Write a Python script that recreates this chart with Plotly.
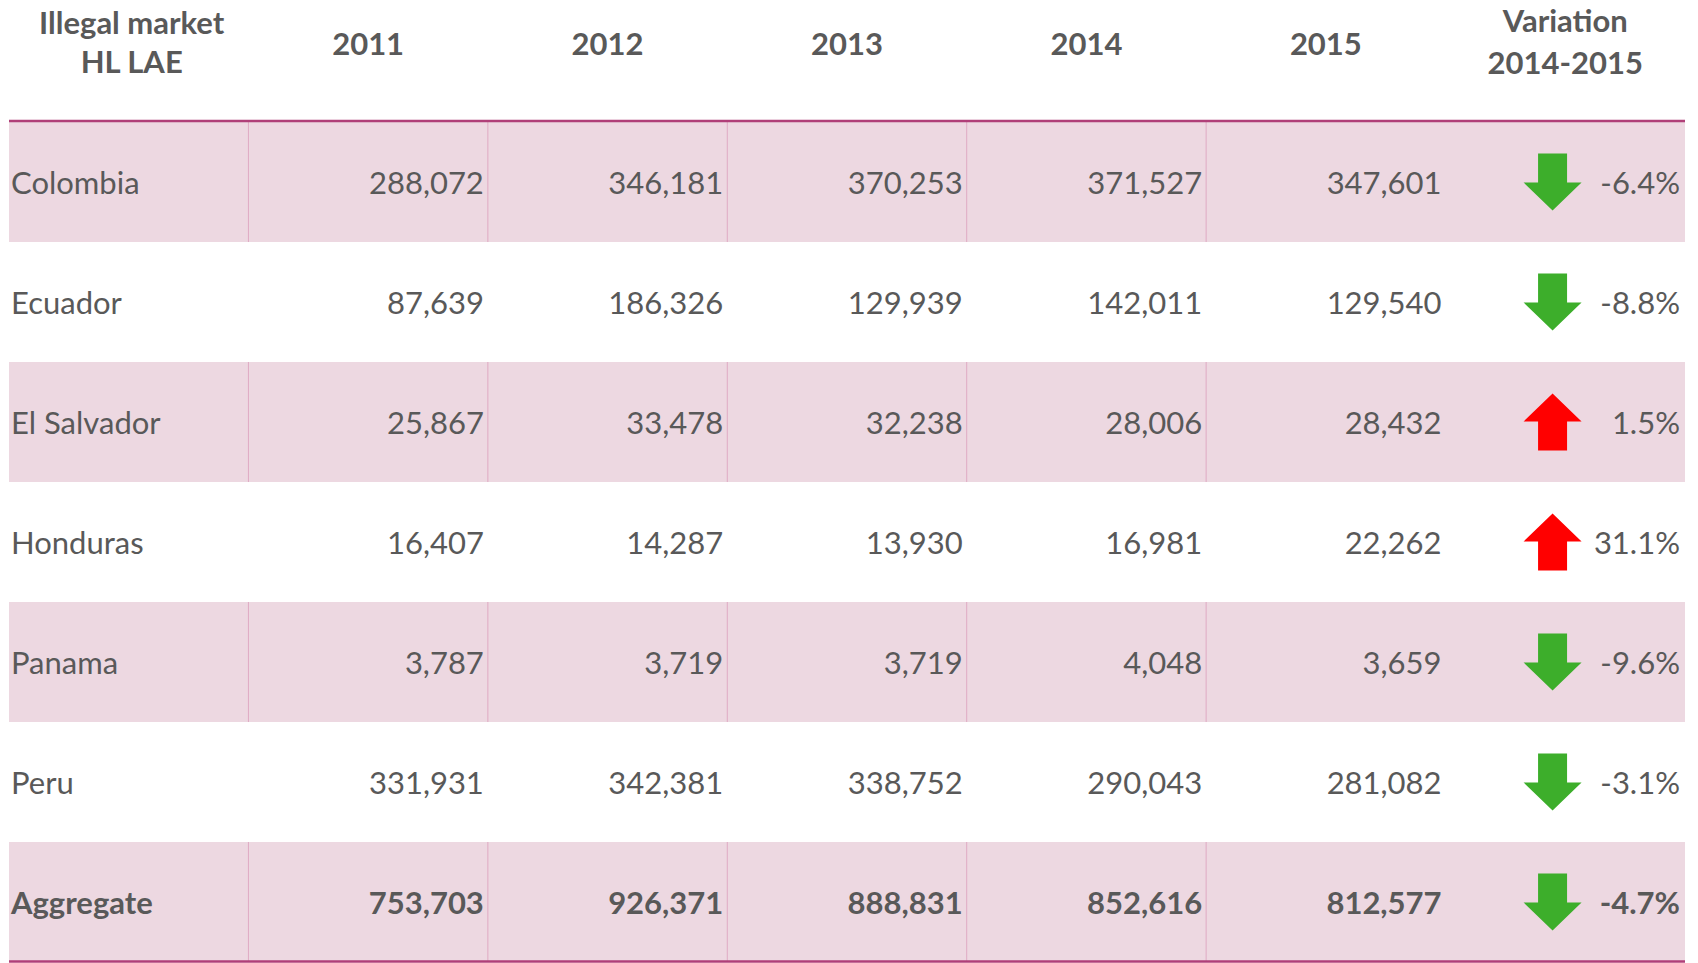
import plotly.graph_objects as go

# ---------------- data ----------------
header_label = ["Illegal market", "HL LAE"]
years = ["2011", "2012", "2013", "2014", "2015"]
variation_header = ["Variation", "2014-2015"]
countries = ["Colombia", "Ecuador", "El Salvador", "Honduras", "Panama", "Peru", "Aggregate"]
v2011 = [288072, 87639, 25867, 16407, 3787, 331931, 753703]
v2012 = [346181, 186326, 33478, 14287, 3719, 342381, 926371]
v2013 = [370253, 129939, 32238, 13930, 3719, 338752, 888831]
v2014 = [371527, 142011, 28006, 16981, 4048, 290043, 852616]
v2015 = [347601, 129540, 28432, 22262, 3659, 281082, 812577]
series = [v2011, v2012, v2013, v2014, v2015]
variation = [(b / a - 1) * 100 for a, b in zip(v2014, v2015)]

# ---------------- style / layout constants ----------------
PAGE_M = 0                      # body margin removed via post_script
W_PX, H_PX = 1698, 963
LEFT_PX, RIGHT_PX = 9 - PAGE_M, 1685 - PAGE_M
TOP_PX, ROW_PX = 122 - PAGE_M, 120
NCOL = 7
COLW = (RIGHT_PX - LEFT_PX) / NCOL
TXT = "#595959"
FILL = "#EDD8E1"
SEP = "#DFAAC3"
RULE = "#B03F78"
GREEN = "#3DAE2B"
RED = "#FF0000"
FONT = "Lato"
FS = 31
BODY_DY = 4                     # text baseline tweak (px)


def px_x(p):  # pixel offset -> column units
    return p / COLW


def px_y(p):  # pixel offset -> row units
    return p / ROW_PX


def page_y(p):  # page pixel y -> row units
    return (p - PAGE_M - TOP_PX) / ROW_PX


nrows = len(countries)
fig = go.Figure()

# row shading and separators
shapes = []
for i in range(nrows):
    if i % 2 == 0:
        shapes.append(dict(type="rect", xref="x", yref="y", x0=0, x1=NCOL, y0=i, y1=i + 1,
                           fillcolor=FILL, line=dict(width=0), layer="below"))
        for c in range(1, 6):
            shapes.append(dict(type="line", xref="x", yref="y", x0=c, x1=c, y0=i, y1=i + 1,
                               line=dict(color=SEP, width=1), layer="below"))
shapes.append(dict(type="line", xref="x", yref="y", x0=0, x1=NCOL, y0=px_y(-1), y1=px_y(-1),
                   line=dict(color=RULE, width=2.5)))
shapes.append(dict(type="line", xref="x", yref="y", x0=0, x1=NCOL, y0=nrows - px_y(0.5), y1=nrows - px_y(0.5),
                   line=dict(color=RULE, width=2.5)))

bold = dict(family=FONT, size=FS, color=TXT, weight="bold")

# header texts
fig.add_trace(go.Scatter(x=[0.5 + px_x(3)] * 2, y=[page_y(26), page_y(65)], mode="text",
                         text=header_label, textposition="middle center", cliponaxis=False,
                         textfont=bold, hoverinfo="skip"))
fig.add_trace(go.Scatter(x=[c + 1.5 for c in range(len(years))], y=[page_y(47)] * len(years),
                         mode="text", text=years, textposition="middle center", cliponaxis=False,
                         textfont=bold, hoverinfo="skip"))
fig.add_trace(go.Scatter(x=[6.5] * 2, y=[page_y(24), page_y(66)], mode="text",
                         text=variation_header, textposition="middle center", cliponaxis=False,
                         textfont=bold, hoverinfo="skip"))


# body
def weight(i):
    return "bold" if countries[i] == "Aggregate" else "normal"


for i in range(nrows):
    yc = i + 0.5
    yt = yc + px_y(BODY_DY)
    w = weight(i)
    font = dict(family=FONT, size=FS, color=TXT, weight=w)
    fig.add_trace(go.Scatter(x=[px_x(2)], y=[yt], mode="text", text=[countries[i]],
                             textposition="middle right", textfont=font, hoverinfo="skip"))
    fig.add_trace(go.Scatter(x=[c + 2 - px_x(4) for c in range(len(series))], y=[yt] * len(series),
                             mode="text", text=[f"{s[i]:,}" for s in series],
                             textposition="middle left", textfont=font, hoverinfo="skip"))
    fig.add_trace(go.Scatter(x=[NCOL - px_x(5)], y=[yt], mode="text", text=[f"{variation[i]:.1f}%"],
                             textposition="middle left", textfont=font, hoverinfo="skip"))
    # arrow
    cx = 6 + px_x(107)
    down = variation[i] < 0
    s = 1 if down else -1
    hs, hh = px_x(14.5), px_x(29)
    top, base, tip = px_y(-28.5) * s, px_y(0.5) * s, px_y(28.5) * s
    ax = [cx - hs, cx + hs, cx + hs, cx + hh, cx, cx - hh, cx - hs, cx - hs]
    ay = [yc + top, yc + top, yc + base, yc + base, yc + tip, yc + base, yc + base, yc + top]
    fig.add_trace(go.Scatter(x=ax, y=ay, mode="lines", fill="toself",
                             fillcolor=GREEN if down else RED, line=dict(width=0),
                             hoverinfo="skip"))

fig.update_layout(
    width=W_PX, height=H_PX,
    margin=dict(l=0, r=0, t=0, b=0, pad=0),
    paper_bgcolor="white", plot_bgcolor="white",
    showlegend=False, hovermode=False,
    shapes=shapes,
    xaxis=dict(range=[-LEFT_PX / COLW, (W_PX - LEFT_PX) / COLW], visible=False, fixedrange=True),
    yaxis=dict(range=[(H_PX - TOP_PX) / ROW_PX, -TOP_PX / ROW_PX], visible=False, fixedrange=True),
)

fig.write_html("out.html", config={"displayModeBar": False},
               post_script="document.body.style.margin='0';")
